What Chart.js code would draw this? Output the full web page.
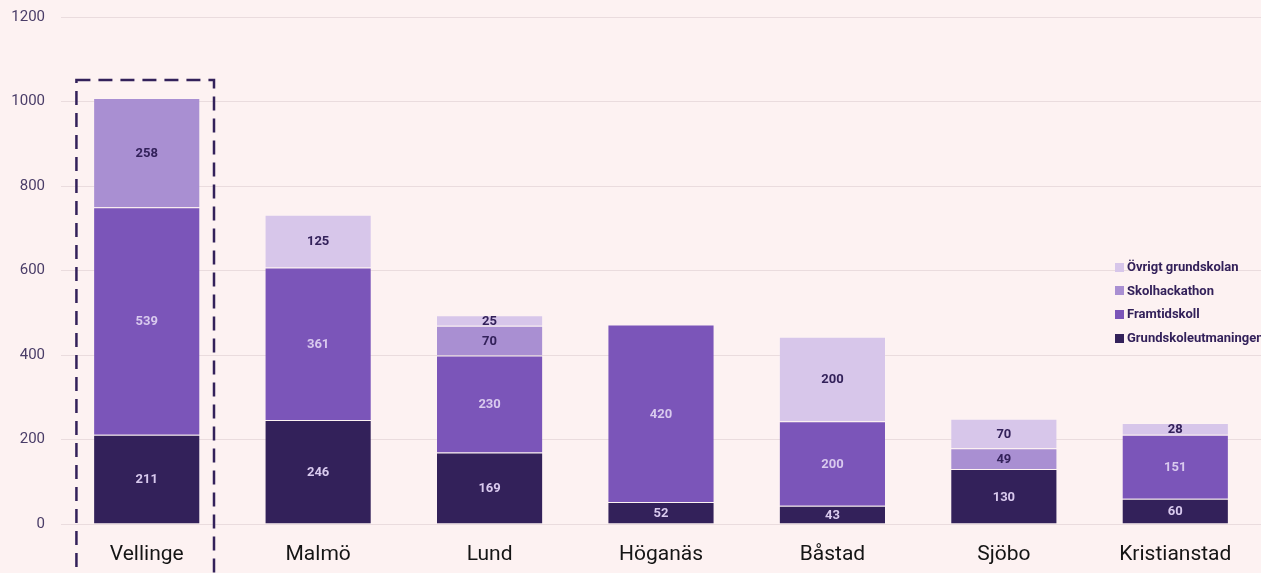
<!DOCTYPE html>
<html>
<head>
<meta charset="utf-8">
<script src="https://cdn.jsdelivr.net/npm/chart.js@4"></script>
<style>
  html, body { margin: 0; padding: 0; background: #FDF2F2; }
  #wrap { position: relative; width: 1261px; height: 573px; overflow: hidden; }
  #legend {
    position: absolute; left: 1115px; top: 259px; width: 146px;
    overflow: hidden; white-space: nowrap;
    font: bold 13px Roboto, sans-serif; color: #33215A;
  }
  #legend div { height: 23.7px; line-height: 16px; }
  #legend span.box { display: inline-block; width: 9px; height: 9px; margin-right: 3px; vertical-align: -0.5px; }
</style>
</head>
<body>
<div id="wrap">
  <canvas id="chart" width="1261" height="573"></canvas>
  <div id="legend"></div>
</div>
<script>
const municipalities = ['Vellinge', 'Malmö', 'Lund', 'Höganäs', 'Båstad', 'Sjöbo', 'Kristianstad'];
const grundskoleutmaningen = [211, 246, 169, 52, 43, 130, 60];
const framtidskoll = [539, 361, 230, 420, 200, 0, 151];
const skolhackathon = [258, 0, 70, 0, 0, 49, 0];
const ovrigtGrundskolan = [0, 125, 25, 0, 200, 70, 28];
const yTicks = [0, 200, 400, 600, 800, 1000, 1200];

// palette
const colors = {
  dark: '#33215A',
  mid: '#7B55B9',
  light: '#A98FD2',
  pale: '#D7C6EA',
  lightText: '#D9CAEE',
};

// writes the value in the middle of every segment
const segmentLabels = {
  id: 'segmentLabels',
  afterDatasetsDraw(chart) {
    const ctx = chart.ctx;
    ctx.save();
    ctx.font = 'bold 13px Roboto, sans-serif';
    ctx.textAlign = 'center';
    ctx.textBaseline = 'middle';
    chart.data.datasets.forEach((ds, i) => {
      const meta = chart.getDatasetMeta(i);
      ctx.fillStyle = i < 2 ? colors.lightText : colors.dark;
      meta.data.forEach((bar, j) => {
        const v = ds.data[j];
        if (!v) return;
        ctx.fillText(v, bar.x, (bar.y + bar.base) / 2 + 1);
      });
    });
    ctx.restore();
  }
};

// dashed frame around the first municipality
const highlight = {
  id: 'highlight',
  afterDatasetsDraw(chart) {
    const xs = chart.scales.x;
    const ys = chart.scales.y;
    const cx = xs.getPixelForValue(0);
    const half = xs.width / municipalities.length * 0.41;
    const total = grundskoleutmaningen[0] + framtidskoll[0] + skolhackathon[0] + ovrigtGrundskolan[0];
    const top = ys.getPixelForValue(total) - 18;
    const ctx = chart.ctx;
    ctx.save();
    ctx.strokeStyle = colors.dark;
    ctx.lineWidth = 2.5;
    ctx.setLineDash([14, 8]);
    ctx.strokeRect(cx - half, top, half * 2 - 3, chart.height + 20 - top);
    ctx.restore();
  }
};

const chart = new Chart(document.getElementById('chart'), {
  type: 'bar',
  data: {
    labels: municipalities,
    datasets: [
      { label: 'Grundskoleutmaningen', data: grundskoleutmaningen, backgroundColor: colors.dark },
      { label: 'Framtidskoll', data: framtidskoll, backgroundColor: colors.mid },
      { label: 'Skolhackathon', data: skolhackathon, backgroundColor: colors.light },
      { label: 'Övrigt grundskolan', data: ovrigtGrundskolan, backgroundColor: colors.pale },
    ].map(d => Object.assign(d, {
      borderColor: 'rgba(255,255,255,0.1)',
      borderWidth: 1,
      barPercentage: 0.625,
      categoryPercentage: 1,
    })),
  },
  options: {
    responsive: false,
    animation: false,
    layout: { padding: { top: 17, right: 0, left: 0, bottom: 0 } },
    plugins: {
      legend: { display: false },
      tooltip: { enabled: false },
    },
    scales: {
      x: {
        stacked: true,
        grid: { display: false },
        border: { display: false },
        ticks: { font: { family: 'Roboto', size: 21 }, color: '#151515', padding: 10 },
        afterFit(scale) { scale.height = 49; },
      },
      y: {
        stacked: true,
        min: 0,
        max: 1200,
        afterBuildTicks(scale) { scale.ticks = yTicks.map(v => ({ value: v })); },
        grid: { color: '#EADCDE', drawTicks: false },
        border: { display: false },
        ticks: {
          font: { family: 'Roboto', size: 15 },
          color: '#4A3D68',
          padding: 16,
          callback: v => String(v),
        },
        afterFit(scale) {
          scale.width = 61;
          scale.paddingTop = 0;
          scale.paddingBottom = 0;
        },
      },
    },
  },
  plugins: [segmentLabels, highlight],
});

// legend, top series first
const legendEl = document.getElementById('legend');
chart.data.datasets.slice().reverse().forEach(ds => {
  const row = document.createElement('div');
  const box = document.createElement('span');
  box.className = 'box';
  box.style.background = ds.backgroundColor;
  row.appendChild(box);
  row.appendChild(document.createTextNode(ds.label));
  legendEl.appendChild(row);
});
</script>
</body>
</html>
